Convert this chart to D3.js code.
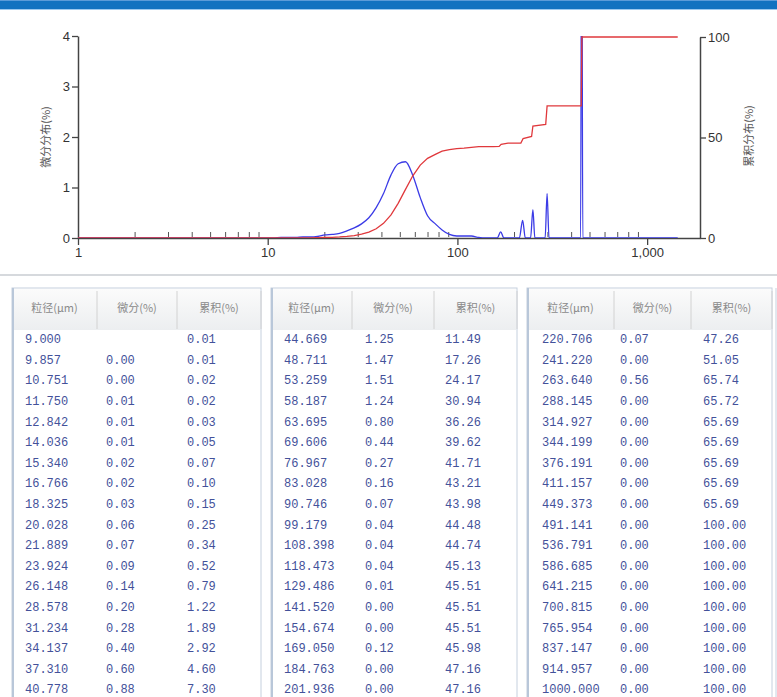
<!DOCTYPE html>
<html><head><meta charset="utf-8">
<script src="https://cdn.jsdelivr.net/npm/d3@7/dist/d3.min.js"></script>
<style>body{margin:0;background:#fff;}svg{display:block;}</style>
</head><body>
<svg id="c" width="777" height="697"></svg>
<script>
// ---------- chart data ----------
const diffSize = [1,9,9.857,10.751,11.75,12.842,14.036,15.34,16.766,18.325,20.028,21.889,23.924,26.148,28.578,31.234,34.137,37.31,40.778,44.669,48.711,53.259,58.187,63.695,69.606,76.967,83.028,90.746,99.179,108.398,118.473,129.486,141.52,154.674,162,169.05,176,212,220.706,228,243,250,256,290,297,304,446,452,458,1450];
const diffVal  = [0,0,0,0,0.01,0.01,0.01,0.02,0.02,0.03,0.06,0.07,0.09,0.14,0.2,0.28,0.4,0.6,0.88,1.25,1.47,1.51,1.24,0.8,0.44,0.27,0.16,0.07,0.04,0.04,0.04,0.01,0,0,0,0.12,0,0,0.35,0,0,0.56,0,0,0.88,0,0,8,0,0];
const cumSize = [1,9,9.857,10.751,11.75,12.842,14.036,15.34,16.766,18.325,20.028,21.889,23.924,26.148,28.578,31.234,34.137,37.31,40.778,44.669,48.711,53.259,58.187,63.695,69.606,76.967,83.028,90.746,99.179,108.398,118.473,129.486,154.674,166,170,184.763,201.936,216,222,246,250,292,297,449.373,453,1450];
const cumVal  = [0,0.01,0.01,0.02,0.02,0.03,0.05,0.07,0.10,0.15,0.25,0.34,0.52,0.79,1.22,1.89,2.92,4.6,7.3,11.49,17.26,24.17,30.94,36.26,39.62,41.71,43.21,43.98,44.48,44.74,45.13,45.51,45.51,45.6,46.6,47.16,47.16,47.26,49.5,50.5,55.7,56.5,65.7,65.69,100,100];
const xTickVals = [1,10,100,1000];
const xTickLabels = ["1","10","100","1,000"];
const yLeftTicks = [0,1,2,3,4];
const yRightTicks = [0,50,100];
const yLeftTitle = "微分分布(%)";
const yRightTitle = "累积分布(%)";

// ---------- table data ----------
const headers = ["粒径(μm)","微分(%)","累积(%)"];
const tblSize = ["9.000","9.857","10.751","11.750","12.842","14.036","15.340","16.766","18.325","20.028","21.889","23.924","26.148","28.578","31.234","34.137","37.310","40.778",
 "44.669","48.711","53.259","58.187","63.695","69.606","76.967","83.028","90.746","99.179","108.398","118.473","129.486","141.520","154.674","169.050","184.763","201.936",
 "220.706","241.220","263.640","288.145","314.927","344.199","376.191","411.157","449.373","491.141","536.791","586.685","641.215","700.815","765.954","837.147","914.957","1000.000"];
const tblDiff = ["","0.00","0.00","0.01","0.01","0.01","0.02","0.02","0.03","0.06","0.07","0.09","0.14","0.20","0.28","0.40","0.60","0.88",
 "1.25","1.47","1.51","1.24","0.80","0.44","0.27","0.16","0.07","0.04","0.04","0.04","0.01","0.00","0.00","0.12","0.00","0.00",
 "0.07","0.00","0.56","0.00","0.00","0.00","0.00","0.00","0.00","0.00","0.00","0.00","0.00","0.00","0.00","0.00","0.00","0.00"];
const tblCum = ["0.01","0.01","0.02","0.02","0.03","0.05","0.07","0.10","0.15","0.25","0.34","0.52","0.79","1.22","1.89","2.92","4.60","7.30",
 "11.49","17.26","24.17","30.94","36.26","39.62","41.71","43.21","43.98","44.48","44.74","45.13","45.51","45.51","45.51","45.98","47.16","47.16",
 "47.26","51.05","65.74","65.72","65.69","65.69","65.69","65.69","65.69","100.00","100.00","100.00","100.00","100.00","100.00","100.00","100.00","100.00"];

// ---------- drawing ----------
const svg = d3.select("#c");
svg.append("rect").attr("x",0).attr("y",0).attr("width",777).attr("height",9).attr("fill","#1272c0");
svg.append("rect").attr("x",0).attr("y",0).attr("width",777).attr("height",1).attr("fill","#5b9bd8");
svg.append("rect").attr("x",0).attr("y",9).attr("width",777).attr("height",1).attr("fill","#9cc8ee");

const L=78, R=700, T=36, B=238;
const x = d3.scaleLog().domain([1,1900]).range([L,R]);
const yL = d3.scaleLinear().domain([0,4]).range([B,T]);
const yR = d3.scaleLinear().domain([0,100]).range([B,T+1]);

svg.append("defs").append("clipPath").attr("id","pc").append("rect")
  .attr("x",L).attr("y",T).attr("width",R-L).attr("height",B-T);

const fontTick = "'Liberation Sans', Arial, sans-serif";
const gL = svg.append("g").attr("transform",`translate(${L},0)`)
  .call(d3.axisLeft(yL).tickValues(yLeftTicks).tickSize(6).tickSizeOuter(0).tickFormat(d3.format("d")));
const gR = svg.append("g").attr("transform",`translate(${R},0)`)
  .call(d3.axisRight(yR).tickValues(yRightTicks).tickSize(6).tickSizeOuter(0).tickFormat(d3.format("d")));
const gX = svg.append("g").attr("transform",`translate(0,${B})`)
  .call(d3.axisBottom(x).tickValues(xTickVals).tickSize(7).tickSizeOuter(0).tickFormat((d,i)=>xTickLabels[i]));
const minor = [];
[1,10,100,1000].forEach(dec=>{for(let k=2;k<=9;k++){const v=dec*k; if(v<1900) minor.push(v);}});
svg.append("g").selectAll("line").data(minor).join("line")
  .attr("x1",d=>x(d)).attr("x2",d=>x(d)).attr("y1",B-1).attr("y2",B-6)
  .attr("stroke","#555").attr("stroke-width",1);

[gL,gR,gX].forEach(g=>{
  g.selectAll(".domain").attr("stroke","#444").attr("stroke-width",1.5);
  g.selectAll(".tick line").attr("stroke","#444").attr("stroke-width",1.3);
  g.selectAll("text").attr("fill","#333").style("font-family",fontTick).style("font-size","13px");
});
gL.selectAll("text").attr("x",-8);
gR.selectAll("text").attr("x",8);
gX.selectAll("text").attr("y",10);

svg.append("text").attr("transform","translate(47,137) rotate(-90)").attr("text-anchor","middle")
  .attr("dominant-baseline","middle").attr("fill","#555")
  .style("font-family","'Noto Sans CJK SC', sans-serif").style("font-size","11px").text(yLeftTitle);
svg.append("text").attr("transform","translate(750,136) rotate(-90)").attr("text-anchor","middle")
  .attr("dominant-baseline","middle").attr("fill","#555")
  .style("font-family","'Noto Sans CJK SC', sans-serif").style("font-size","11px").text(yRightTitle);

const plot = svg.append("g").attr("clip-path","url(#pc)");
const blueLine = d3.line().x(d=>x(d[0])).y(d=>yL(d[1])).curve(d3.curveMonotoneX);
const redLine = d3.line().x(d=>x(d[0])).y(d=>yR(d[1]));
plot.append("path").datum(diffSize.map((s,i)=>[s,diffVal[i]]))
  .attr("d",blueLine).attr("fill","none").attr("stroke","#3b3be6").attr("stroke-width",1.3);
plot.append("path").datum(cumSize.map((s,i)=>[s,cumVal[i]]))
  .attr("d",redLine).attr("fill","none").attr("stroke","#e0383c").attr("stroke-width",1.3);

svg.append("rect").attr("x",0).attr("y",274).attr("width",777).attr("height",2).attr("fill","#d6d9dd");

const panels = [
  {x0:12, s1:97, s2:177, x1:261, tx:[25,106,187]},
  {x0:271, s1:352, s2:434, x1:517, tx:[284,365,445]},
  {x0:527, s1:614, s2:691, x1:772, tx:[542,620,703]}
];
const grad = svg.select("defs").append("linearGradient").attr("id","hg").attr("x1",0).attr("y1",0).attr("x2",0).attr("y2",1);
grad.append("stop").attr("offset","0").attr("stop-color","#fbfbfb");
grad.append("stop").attr("offset","1").attr("stop-color","#eceef0");
const rowsPer = 18, rowY0 = 340, rowH = 20.6;
panels.forEach((p,pi)=>{
  const g = svg.append("g");
  g.append("rect").attr("x",p.x0).attr("y",288).attr("width",p.x1-p.x0).attr("height",420)
    .attr("fill","#fff").attr("stroke","#c5d0de").attr("stroke-width",1);
  g.append("rect").attr("x",p.x0).attr("y",288).attr("width",2).attr("height",420).attr("fill","#b9c7d9");
  g.append("rect").attr("x",p.x0+2).attr("y",289).attr("width",p.x1-p.x0-3).attr("height",41).attr("fill","url(#hg)");
  [p.s1,p.s2,p.x1].forEach(sx=>{
    g.append("line").attr("x1",sx).attr("x2",sx).attr("y1",291).attr("y2",329).attr("stroke","#d2d2d2");
  });
  const cells = [[p.x0,p.s1],[p.s1,p.s2],[p.s2,p.x1]];
  headers.forEach((h,hi)=>{
    g.append("text").attr("x",(cells[hi][0]+cells[hi][1])/2).attr("y",309)
      .attr("text-anchor","middle").attr("dominant-baseline","middle").attr("fill","#8a8a8a")
      .style("font-family","'Noto Sans CJK SC', sans-serif").style("font-size","11px").text(h);
  });
  for(let r=0;r<rowsPer;r++){
    const idx = pi*rowsPer + r;
    const y = rowY0 + r*rowH;
    [tblSize[idx], tblDiff[idx], tblCum[idx]].forEach((t,ci)=>{
      g.append("text").attr("x",p.tx[ci]).attr("y",y).attr("dominant-baseline","middle")
        .attr("fill","#43519a").style("font-family","'Liberation Mono', monospace").style("font-size","12px")
        .text(t);
    });
  }
});
svg.append("line").attr("x1",776).attr("x2",776).attr("y1",288).attr("y2",697).attr("stroke","#c5d0de");
</script>
</body></html>
